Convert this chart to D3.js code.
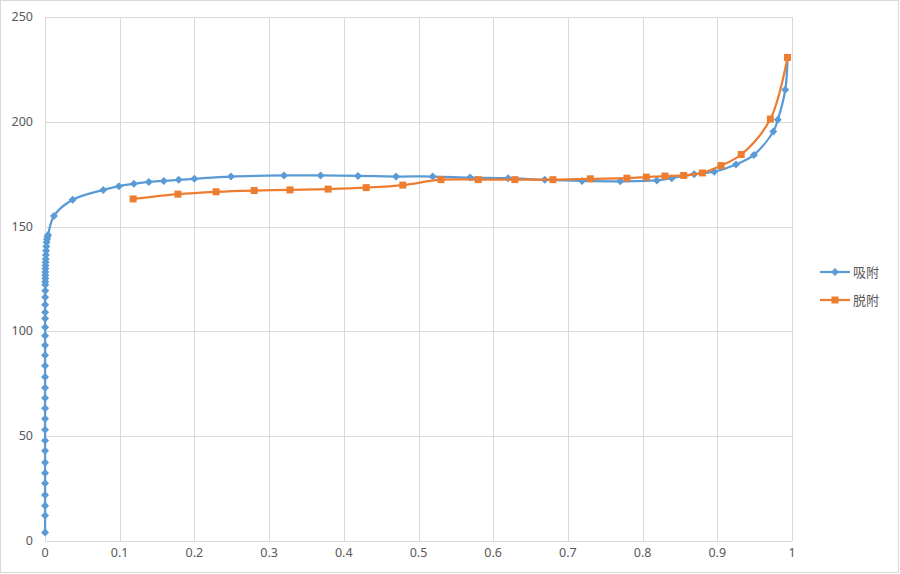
<!DOCTYPE html>
<head>
<meta charset="utf-8">
<script src="https://d3js.org/d3.v7.min.js"></script>
<style>
    body { margin: 0; background: #fff; }
    text {
        font-family: "Noto Sans", "Noto Sans CJK SC", sans-serif;
        fill: #595959;
        font-size: 12.5px;
    }
    .grid line { stroke: #d9d9d9; stroke-width: 1px; }
    .legend text { font-family: "Noto Sans CJK SC", sans-serif; font-size: 13px; }
</style>
</head>
<body>
<svg width="900" height="574"></svg>
<script>
    // 吸附 (adsorption) branch
    var adsX = [0.0001, 0.0001, 0.0001, 0.0001, 0.0001, 0.0001, 0.0001, 0.0001, 0.0001, 0.0001,
                0.0001, 0.0001, 0.0001, 0.0001, 0.0001, 0.0001, 0.0001, 0.0001, 0.0001, 0.0002,
                0.0002, 0.0002, 0.0002, 0.0002, 0.0003, 0.0003, 0.0003, 0.0004, 0.0004, 0.0005,
                0.0006, 0.0007, 0.0008, 0.001, 0.0012, 0.0015, 0.0018, 0.0022, 0.0027, 0.0033,
                0.004, 0.012, 0.037, 0.078, 0.099, 0.119, 0.139, 0.159, 0.179, 0.2,
                0.249, 0.32, 0.369, 0.419, 0.47, 0.519, 0.569, 0.62, 0.669, 0.719,
                0.77, 0.819, 0.839, 0.869, 0.896, 0.925, 0.949, 0.975, 0.981, 0.991, 0.994];
    var adsY = [4.1, 12.2, 16.8, 22.0, 27.5, 32.5, 37.5, 43.0, 48.0, 53.1,
                58.3, 63.3, 68.2, 73.1, 78.2, 83.6, 88.6, 93.4, 97.9, 102.0,
                106.1, 109.1, 112.7, 116.3, 119.4, 122.2, 123.7, 125.2, 126.8, 128.3,
                130.0, 131.5, 133.0, 134.5, 136.5, 138.5, 140.5, 142.5, 144.0, 145.2,
                146.0, 155.1, 162.8, 167.5, 169.3, 170.4, 171.3, 171.8, 172.3, 172.8,
                173.9, 174.4, 174.4, 174.2, 173.9, 173.9, 173.4, 173.1, 172.3, 171.8,
                171.6, 172.0, 173.1, 175.0, 176.2, 179.6, 184.2, 195.4, 201.0, 215.3, 230.5];

    // 脱附 (desorption) branch
    var desX = [0.118, 0.178, 0.229, 0.280, 0.328, 0.379, 0.430, 0.479, 0.530, 0.580,
                0.629, 0.680, 0.730, 0.779, 0.805, 0.830, 0.855, 0.880, 0.905, 0.932,
                0.971, 0.994];
    var desY = [163.2, 165.5, 166.6, 167.2, 167.5, 167.9, 168.6, 169.8, 172.4, 172.4,
                172.4, 172.4, 172.8, 173.1, 173.6, 174.1, 174.4, 175.6, 179.1, 184.4,
                201.3, 230.7];

    var xTicks = [0, 0.1, 0.2, 0.3, 0.4, 0.5, 0.6, 0.7, 0.8, 0.9, 1];
    var yTicks = [0, 50, 100, 150, 200, 250];

    // diamond = square turned 45 degrees (Excel style, equal width and height)
    var series = [
        { name: "吸附", xs: adsX, ys: adsY, color: "#5B9BD5", size: 32, rot: 45 },
        { name: "脱附", xs: desX, ys: desY, color: "#ED7D31", size: 49, rot: 0 }
    ];

    var svg = d3.select("svg");

    // outer chart border
    svg.append("rect")
        .attr("x", 0.5).attr("y", 0.5)
        .attr("width", 898).attr("height", 572)
        .attr("fill", "#fff")
        .attr("stroke", "#d9d9d9");

    var x = d3.scaleLinear().domain([0, 1]).range([45, 792]);
    var y = d3.scaleLinear().domain([0, 250]).range([541, 17]);

    // gridlines
    var grid = svg.append("g").attr("class", "grid");
    grid.selectAll(".v").data(xTicks).enter().append("line")
        .attr("x1", function(d) { return Math.round(x(d)) + 0.5; })
        .attr("x2", function(d) { return Math.round(x(d)) + 0.5; })
        .attr("y1", y(0)).attr("y2", y(250));
    grid.selectAll(".h").data(yTicks).enter().append("line")
        .attr("y1", function(d) { return Math.round(y(d)) + 0.5; })
        .attr("y2", function(d) { return Math.round(y(d)) + 0.5; })
        .attr("x1", x(0)).attr("x2", x(1));

    // tick labels
    svg.append("g").selectAll("text").data(yTicks).enter().append("text")
        .attr("x", 33)
        .attr("y", function(d) { return y(d) + 4; })
        .style("text-anchor", "end")
        .text(function(d) { return d; });
    svg.append("g").selectAll("text").data(xTicks).enter().append("text")
        .attr("x", function(d) { return x(d); })
        .attr("y", 557)
        .style("text-anchor", "middle")
        .text(function(d) { return d; });

    var line = d3.line()
        .x(function(d) { return x(d[0]); })
        .y(function(d) { return y(d[1]); })
        .curve(d3.curveCatmullRom.alpha(0.5));

    series.forEach(function(s) {
        var pts = s.xs.map(function(v, i) { return [v, s.ys[i]]; });
        var g = svg.append("g");
        g.append("path")
            .attr("d", line(pts))
            .attr("fill", "none")
            .attr("stroke", s.color)
            .attr("stroke-width", 2.25);
        g.selectAll("path.m").data(pts).enter().append("path")
            .attr("class", "m")
            .attr("transform", function(d) {
                return "translate(" + x(d[0]) + "," + y(d[1]) + ") rotate(" + s.rot + ")";
            })
            .attr("d", d3.symbol().type(d3.symbolSquare).size(s.size))
            .attr("fill", s.color);
    });

    // legend
    var legend = svg.append("g").attr("class", "legend");
    series.forEach(function(s, i) {
        var ly = 272 + i * 28;
        legend.append("line")
            .attr("x1", 820).attr("x2", 850)
            .attr("y1", ly).attr("y2", ly)
            .attr("stroke", s.color).attr("stroke-width", 2.25);
        legend.append("path")
            .attr("transform", "translate(835," + ly + ") rotate(" + s.rot + ")")
            .attr("d", d3.symbol().type(d3.symbolSquare).size(s.size))
            .attr("fill", s.color);
        legend.append("text")
            .attr("x", 853).attr("y", ly + 5)
            .text(s.name);
    });
</script>
</body>
